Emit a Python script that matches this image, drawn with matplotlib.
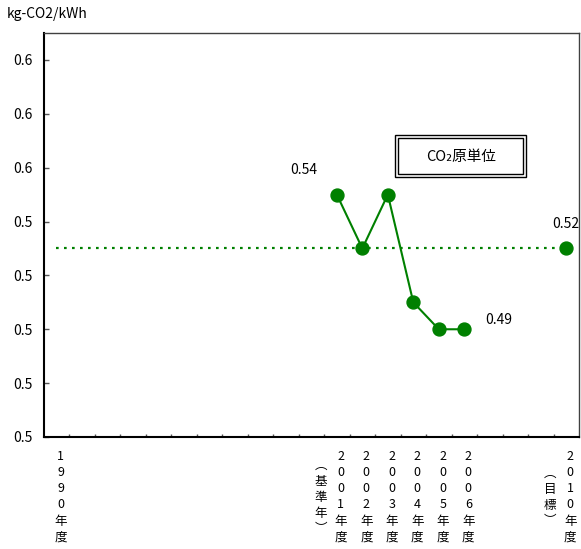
import matplotlib
matplotlib.use("Agg")
import matplotlib.pyplot as plt
import matplotlib.transforms as mtransforms
from matplotlib.patches import Rectangle
import numpy as np

plt.rcParams['font.family'] = ['Noto Sans CJK JP', 'DejaVu Sans']

# データ
years = list(range(1990, 2011))
actual_years = [2001, 2002, 2003, 2004, 2005, 2006]
actual_vals = [0.54, 0.52, 0.54, 0.50, 0.49, 0.49]
target_year = 2010
target_val = 0.52

yticks = [0.45, 0.47, 0.49, 0.51, 0.53, 0.55, 0.57, 0.59]
ytick_labels = ['0.5', '0.5', '0.5', '0.5', '0.5', '0.6', '0.6', '0.6']

# x軸ラベル（縦書き: 主列, 左の列）
xlabels = {
    1990: ("1990年度", ""),
    2001: ("2001年度", "︵基準年︶"),
    2002: ("2002年度", ""),
    2003: ("2003年度", ""),
    2004: ("2004年度", ""),
    2005: ("2005年度", ""),
    2006: ("2006年度", ""),
    2010: ("2010年度", "︵目標︶"),
}

green = '#008000'
W, H = 581, 549
fig = plt.figure(figsize=(W / 100, H / 100), dpi=100)
ax = fig.add_axes([43.7 / W, 1 - 437 / H, (579 - 43.7) / W, (437 - 33) / H])

xpos = {y: i for i, y in enumerate(years)}

# 目標の点線
ax.plot([xpos[y] for y in years], [target_val] * len(years), color=green,
        lw=1.6, linestyle=(0, (1.2, 2.4)), zorder=2)
# 実績
ax.plot([xpos[y] for y in actual_years], actual_vals, color=green, lw=1.5,
        marker='o', markersize=9.3, zorder=3)
ax.plot([xpos[target_year]], [target_val], color=green, marker='o',
        markersize=9.3, linestyle='none', zorder=3)

# 値ラベル
ax.annotate(f"{actual_vals[0]:.2f}", (xpos[actual_years[0]], actual_vals[0]),
            xytext=(-33, 25), textcoords='offset pixels', ha='center', va='center', fontsize=10)
ax.annotate(f"{actual_vals[-1]:.2f}", (xpos[actual_years[-1]], actual_vals[-1]),
            xytext=(34, 9), textcoords='offset pixels', ha='center', va='center', fontsize=10)
ax.annotate(f"{target_val:.2f}", (xpos[target_year], target_val),
            xytext=(0, 24), textcoords='offset pixels', ha='center', va='center', fontsize=10)

ax.set_xlim(-0.5, len(years) - 0.5)
ax.set_ylim(0.45, 0.60)
ax.set_yticks(yticks)
ax.set_yticklabels(ytick_labels, fontsize=10)
ax.set_xticks(np.arange(0.5, len(years) - 1, 1.0))
ax.set_xticklabels([])
ax.tick_params(axis='y', direction='in', length=3.6, width=1, color='#555555', pad=8)
ax.tick_params(axis='x', direction='in', length=2.4, width=1, color='#555555')

for s in ['left', 'bottom']:
    ax.spines[s].set_color('black')
    ax.spines[s].set_linewidth(1.5)
for s in ['top', 'right']:
    ax.spines[s].set_color('#404040')
    ax.spines[s].set_linewidth(1.0)

# 縦書きのx軸ラベル
base = ax.get_xaxis_transform()
step = 16
center_y = 497 - 437
for yr, (main, sub) in xlabels.items():
    for col, text, dx in [(0, main, 4), (1, sub, -16)]:
        n = len(text)
        for k, ch in enumerate(text):
            dy = -(center_y + (k - (n - 1) / 2) * step)
            tr = mtransforms.offset_copy(base, fig=fig, x=dx, y=dy, units='dots')
            ax.text(xpos[yr], 0, ch, transform=tr, ha='center', va='center',
                    fontsize=9, clip_on=False)

# 単位
fig.text(7 / W, 1 - 14 / H, "kg-CO2/kWh", ha='left', va='center', fontsize=10)

# 凡例ボックス（二重線）
fig.add_artist(Rectangle((395 / W, 1 - 177 / H), 131 / W, 42 / H, transform=fig.transFigure,
                         fill=False, edgecolor='black', lw=1.0))
fig.add_artist(Rectangle((398 / W, 1 - 174 / H), 125 / W, 36 / H, transform=fig.transFigure,
                         fill=False, edgecolor='black', lw=1.0))
fig.text(461 / W, 1 - 157 / H, "CO₂原単位", ha='center', va='center', fontsize=10.5)

fig.savefig("out.png", dpi=100)
